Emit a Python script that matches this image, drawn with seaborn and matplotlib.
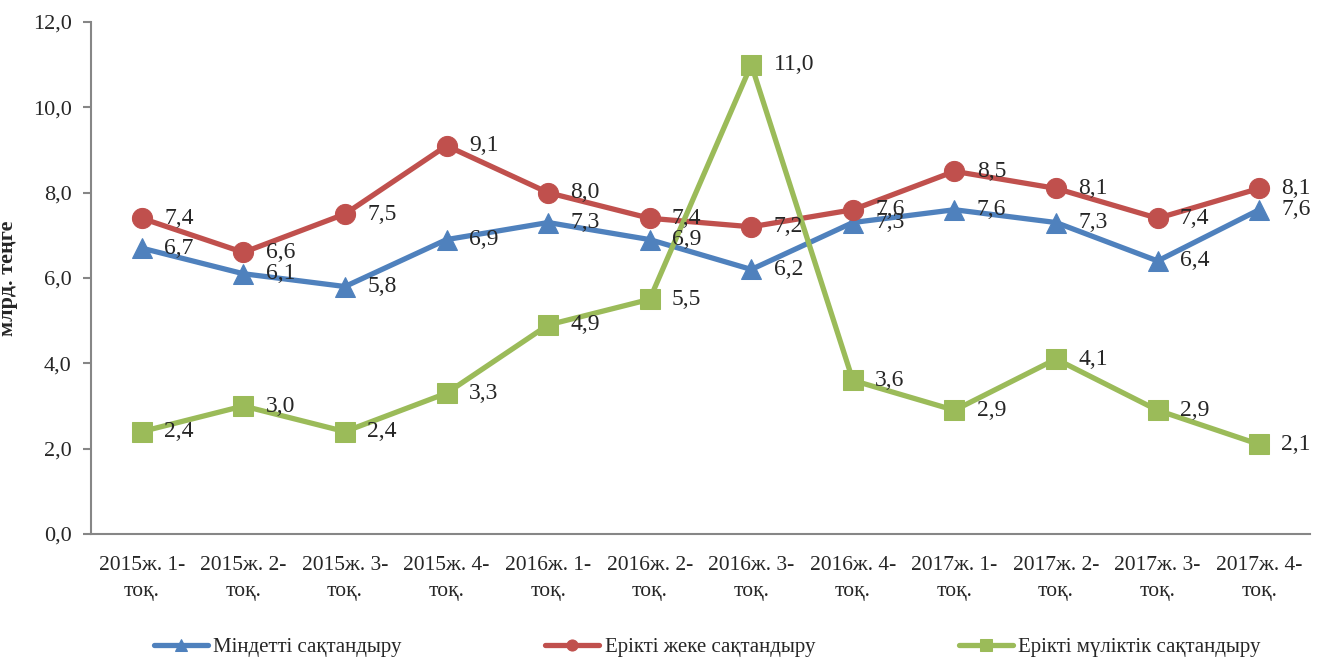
import numpy as np
import pandas as pd
import matplotlib
matplotlib.use("Agg")
import matplotlib.pyplot as plt
import seaborn as sns

quarters = ["2015ж. 1-\nтоқ.", "2015ж. 2-\nтоқ.", "2015ж. 3-\nтоқ.", "2015ж. 4-\nтоқ.",
            "2016ж. 1-\nтоқ.", "2016ж. 2-\nтоқ.", "2016ж. 3-\nтоқ.", "2016ж. 4-\nтоқ.",
            "2017ж. 1-\nтоқ.", "2017ж. 2-\nтоқ.", "2017ж. 3-\nтоқ.", "2017ж. 4-\nтоқ."]
mandatory = [6.7, 6.1, 5.8, 6.9, 7.3, 6.9, 6.2, 7.3, 7.6, 7.3, 6.4, 7.6]
personal = [7.4, 6.6, 7.5, 9.1, 8.0, 7.4, 7.2, 7.6, 8.5, 8.1, 7.4, 8.1]
property_ = [2.4, 3.0, 2.4, 3.3, 4.9, 5.5, 11.0, 3.6, 2.9, 4.1, 2.9, 2.1]
names = ["Міндетті сақтандыру", "Ерікті жеке сақтандыру", "Ерікті мүліктік сақтандыру"]

sns.set_style("white")
plt.rcParams["font.family"] = ["Liberation Serif", "DejaVu Serif"]

fig = plt.figure(figsize=(13.17, 6.59), dpi=100)
ax = fig.add_axes([91 / 1317, 1 - 534 / 659, 1219 / 1317, 512 / 659])

pos = np.arange(len(quarters))
series = [(mandatory, "#4F81BD", "^"), (personal, "#C0504D", "o"), (property_, "#9BBB59", "s")]
for (vals, col, mk), name in zip(series, names):
    df = pd.DataFrame({"x": pos, "y": vals})
    sns.lineplot(data=df, x="x", y="y", ax=ax, color=col, marker=mk, markersize=14.5,
                 markeredgecolor=col, linewidth=3.8, label=name, legend=False)
    for x, y in zip(pos, vals):
        ax.annotate(f"{y:.1f}".replace(".", ","), (x, y), xytext=(16, 0),
                    textcoords="offset points", va="center", ha="left", fontsize=17)

ax.set_xlim(-0.5, len(quarters) - 0.5)
ax.set_ylim(0, 12)
yt = np.arange(0, 12.1, 2)
ax.set_yticks(yt)
ax.set_yticklabels([f"{v:.1f}".replace(".", ",") for v in yt], fontsize=16)
ax.set_xticks(np.arange(-0.5, len(quarters), 1))
ax.set_xticklabels([])
ax.set_xticks(pos, minor=True)
ax.set_xticklabels(quarters, minor=True, fontsize=15.5, linespacing=1.45)
ax.tick_params(axis="x", which="major", length=6, width=1.5, color="#868686", direction="out")
ax.tick_params(axis="x", which="minor", length=0, pad=16)
ax.tick_params(axis="y", length=6, width=1.5, color="#868686", direction="out", left=True, pad=8)
ax.set_xlabel("")
ax.set_ylabel("млрд. теңге", fontsize=16, fontweight="bold")
ax.yaxis.set_label_coords((18 - 91) / 1219, 0.5)
for s in ["top", "right"]:
    ax.spines[s].set_visible(False)
for s in ["left", "bottom"]:
    ax.spines[s].set_color("#868686")
    ax.spines[s].set_linewidth(1.5)

handles, labels = ax.get_legend_handles_labels()
fig.legend(handles, labels, loc="lower center", bbox_to_anchor=(0.537, -0.026), ncol=3,
           frameon=False, fontsize=15, columnspacing=6.9, handlelength=2.6,
           handletextpad=0.25, markerscale=0.55)

fig.savefig("out.png", dpi=100)
